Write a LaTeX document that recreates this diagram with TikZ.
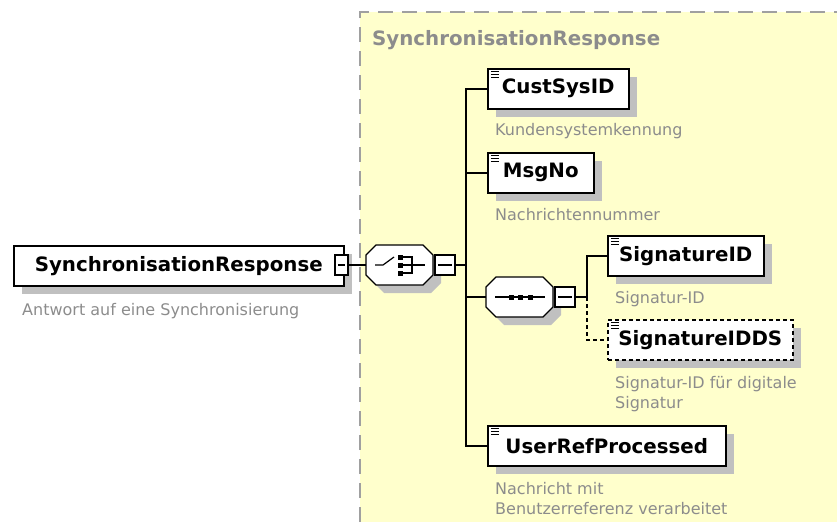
\documentclass[tikz,border=0pt]{standalone}
\usepackage{fontspec}
\setmainfont{DejaVu Sans}
\usetikzlibrary{shadows}

\definecolor{paneyellow}{HTML}{FFFFCC}
\definecolor{panegrey}{HTML}{A0A0A0}
\definecolor{shadegrey}{HTML}{C0C0C0}
\definecolor{notegrey}{HTML}{8C8C8C}

\newcommand\octagonpath{(-33.5,-10) -- (-23.5,-20) -- (23.5,-20) -- (33.5,-10) -- (33.5,10) -- (23.5,20) -- (-23.5,20) -- (-33.5,10) -- cycle}

\tikzset{
  box/.style={draw,fill=white,line width=1.5pt,anchor=north west,
    minimum height=40pt,inner sep=0pt,
    font=\fontsize{19.8}{22}\selectfont\bfseries,
    drop shadow={shadow xshift=8pt,shadow yshift=-8pt,fill=shadegrey,opacity=1}},
  elem/.style={box,
    path picture={\foreach \k in {3,6,9}
      \draw[solid,line width=1pt] ([xshift=3pt,yshift=-\k*1pt]path picture bounding box.north west) -- ++(8pt,0pt);}},
  compositor/.style={minimum width=67pt,minimum height=40pt,inner sep=0pt},
  minus/.style={draw,fill=white,line width=1.2pt,minimum width=20pt,minimum height=20pt,inner sep=0pt,
    path picture={\draw[line width=1.2pt] ([xshift=3pt]path picture bounding box.west) -- ([xshift=-3pt]path picture bounding box.east);}},
  note/.style={anchor=base west,inner sep=0pt,text=notegrey,align=left,
    font=\fontsize{16}{20}\selectfont},
  wire/.style={line width=1.5pt},
}

\begin{document}
\begin{tikzpicture}[x=1pt,y=-1pt]
\useasboundingbox (0,0) rectangle (837,522);

% content pane
\fill[paneyellow] (360,12) rectangle (837,522);
\draw[panegrey,line width=2pt,dash pattern=on 15pt off 9pt] (360,522) -- (360,12) -- (837,12);
\node[anchor=base west,inner sep=0pt,text=notegrey,font=\fontsize{19.8}{22}\selectfont\bfseries] (title) at (372,45) {SynchronisationResponse};

% root element
\node[box,minimum width=330pt] (resp) at (13,245) {SynchronisationResponse};
\node[minus,minimum width=13pt] (respminus) at (341.5,265) {};
\node[note] (respnote) at (22,315) {Antwort auf eine Synchronisierung};

% choice
\node[compositor] (choice) at (399.5,265) {};
\begin{scope}[shift={(choice.center)},line width=1.2pt]
  \fill[shadegrey,shift={(8,8)}] \octagonpath;
  \filldraw[fill=white] \octagonpath;
  \draw (-24.5,0) -- (-16.5,0) -- (-5.5,-8);
  \foreach \y in {-8,0,8} \fill (-1.5,\y-2.5) rectangle (3.5,\y+2.5);
  \draw (3.5,-8) -- (12.5,-8) -- (12.5,8) -- (3.5,8);
  \draw (3.5,0) -- (25.5,0);
\end{scope}
\node[minus] (choiceminus) at (445,265) {};
\coordinate (bus) at (466,265);

% children
\node[elem,minimum width=141pt] (custsysid) at (487,68) {CustSysID};
\node[note] (custsysidnote) at (495,135) {Kundensystemkennung};
\node[elem,minimum width=106pt] (msgno) at (487,152) {MsgNo};
\node[note] (msgnonote) at (495,220) {Nachrichtennummer};

% sequence
\node[compositor] (seq) at (519.5,297) {};
\begin{scope}[shift={(seq.center)},line width=1.2pt]
  \fill[shadegrey,shift={(8,8)}] \octagonpath;
  \filldraw[fill=white] \octagonpath;
  \draw (-24.5,0) -- (25.5,0);
  \foreach \x in {-8,1,11} \fill (\x-2.5,-2.5) rectangle (\x+2.5,2.5);
\end{scope}
\node[minus] (seqminus) at (565,297) {};
\coordinate (sigbus) at (587,297);

\node[elem,minimum width=156pt] (signatureid) at (607,235) {SignatureID};
\node[note] (signatureidnote) at (615,303) {Signatur-ID};
\node[elem,minimum width=185pt,dash pattern=on 4pt off 3pt] (signatureidds) at (607,319) {SignatureIDDS};
\node[note] (signatureiddsnote) at (615,408) {Signatur-ID für digitale\\Signatur};

\node[elem,minimum width=238pt] (userref) at (487,425) {UserRefProcessed};
\node[note] (userrefnote) at (495,514) {Nachricht mit\\Benutzerreferenz verarbeitet};

% connectors
\draw[wire] (respminus) -- (choice.west);
\draw[wire] (choiceminus) -- (bus);
\draw[wire] (bus) |- (custsysid.west);
\draw[wire] (bus) |- (msgno.west);
\draw[wire] (bus) |- (seq.west);
\draw[wire] (bus) |- (userref.west);
\draw[wire] (seqminus) -- (sigbus);
\draw[wire] (sigbus) |- (signatureid.west);
\draw[wire,dash pattern=on 4pt off 3pt] (sigbus) |- (signatureidds.west);
\end{tikzpicture}
\end{document}
